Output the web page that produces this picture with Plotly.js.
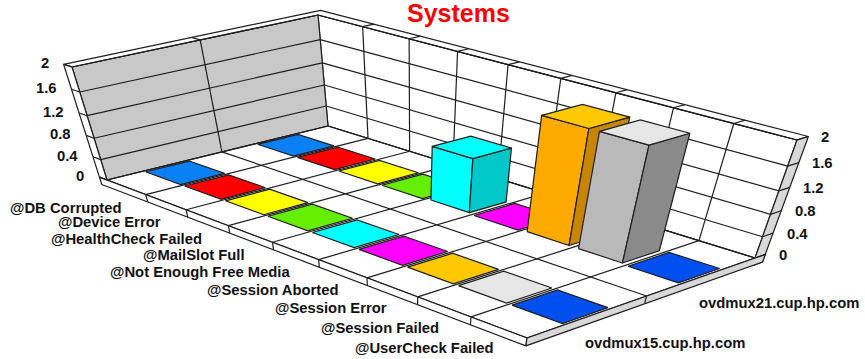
<!DOCTYPE html><html><head><script src="https://cdn.plot.ly/plotly-3.0.1.min.js"></script></head><body style="margin:0;background:#fff"><div id="chart" style="width:865px;height:359px"></div><script>
const categories=['@DB Corrupted','@Device Error','@HealthCheck Failed','@MailSlot Full','@Not Enough Free Media','@Session Aborted','@Session Error','@Session Failed','@UserCheck Failed'];
const seriesNames=['ovdmux15.cup.hp.com','ovdmux21.cup.hp.com'];
const values15=[0,0,0,0,0,0,0,0,0];
const values21=[0,0,0,0,1,0,2,2,0];
const zTicks=[0,0.4,0.8,1.2,1.6,2];
const topColors=['#0a80f5','#ff0000','#ffff00','#66ee00','#00ffff','#ff00ff','#ffc800','#e6e6e6','#0050f0'];
const frontColors=['#0a70d8','#dd0000','#dddd00','#55cc00','#00ffff','#dd00dd','#ffaa00','#b9b9b9','#0044cc'];
const sideColors=['#0860b8','#bb0000','#bbbb00','#44aa00','#00c8c8','#bb00bb','#c88600','#8a8a8a','#0038aa'];

// Oblique view of the 9 x 2 x 2 chart box: where the box corners land on the page axes.
const floorQuad=[[107,180],[527,338],[755,258],[328,126]];
const topQuad=[[72,67],[544,218],[797,140],[318,15]];
const nX=categories.length,nY=seriesNames.length,zMax=2,zBow=0.88;
function squareToQuad(q){const[[x0,y0],[x1,y1],[x2,y2],[x3,y3]]=q;
 const dx1=x1-x2,dx2=x3-x2,sx=x0-x1+x2-x3,dy1=y1-y2,dy2=y3-y2,sy=y0-y1+y2-y3,den=dx1*dy2-dx2*dy1;
 const g=(sx*dy2-dx2*sy)/den,h=(dx1*sy-sx*dy1)/den;
 return [x1-x0+g*x1,x3-x0+h*x3,x0,y1-y0+g*y1,y3-y0+h*y3,y0,g,h];}
const H0=squareToQuad(floorQuad),H1=squareToQuad(topQuad);
function ap(H,u,v){const w=H[6]*u+H[7]*v+1;return[(H[0]*u+H[1]*v+H[2])/w,(H[3]*u+H[4]*v+H[5])/w];}
function project(x,y,z){const u=x/nX,v=y/nY,t=z/zMax,s=t*zBow/(1-t+t*zBow);
 const a=ap(H0,u,v),b=ap(H1,u,v);return[a[0]+(b[0]-a[0])*s,a[1]+(b[1]-a[1])*s];}

const traces=[];const INK='#1e1e1e';const LW=1.2;
function face(pts,fill,lw,ink){const P=pts.map(p=>project(...p));P.push(P[0]);
 traces.push({type:'scatter',mode:'lines',x:P.map(p=>p[0]),y:P.map(p=>p[1]),fill:'toself',fillcolor:fill,line:{color:ink||INK,width:lw===undefined?LW:lw},hoverinfo:'skip',showlegend:false});}
function lines(segs,lw,ink){const X=[],Y=[];segs.forEach(s=>{const a=project(...s[0]),b=project(...s[1]);X.push(a[0],b[0],null);Y.push(a[1],b[1],null);});
 traces.push({type:'scatter',mode:'lines',x:X,y:Y,line:{color:ink||INK,width:lw||LW},hoverinfo:'skip',showlegend:false});}

const eX=0.2,eY=0.1,eZ=-0.15,Y2=nY+eY,X0=-eX;
// back wall, left wall
face([[0,nY,0],[nX,nY,0],[nX,nY,zMax],[0,nY,zMax]],'#ffffff');
face([[0,0,0],[0,nY,0],[0,nY,zMax],[0,0,zMax]],'#c8c8c8');
// wall thickness
face([[X0,0,zMax],[0,0,zMax],[0,nY,zMax],[nX,nY,zMax],[nX,Y2,zMax],[X0,Y2,zMax]],'#ffffff');
face([[X0,0,0],[0,0,0],[0,0,zMax],[X0,0,zMax]],'#ffffff');
face([[nX,nY,eZ],[nX,Y2,eZ],[nX,Y2,zMax],[nX,nY,zMax]],'#d8d8d8');
// floor and its edges
face([[0,0,0],[nX,0,0],[nX,nY,0],[0,nY,0]],'#ffffff');
face([[X0,0,eZ],[nX,0,eZ],[nX,0,0],[X0,0,0]],'#ffffff');
face([[nX,0,eZ],[nX,Y2,eZ],[nX,Y2,0],[nX,0,0]],'#d8d8d8');
// grid
const grid=[];
zTicks.forEach(z=>{grid.push([[0,0,z],[0,nY,z]],[[0,nY,z],[nX,nY,z]]);
 grid.push([[X0,0,z],[0,0,z]],[[nX,nY,z],[nX,Y2,z]]);});
for(let j=1;j<nY;j++){grid.push([[0,j,0],[0,j,zMax]],[[0,j,0],[nX,j,0]],[[0,j,zMax],[X0,j,zMax]],[[nX,j,0],[nX,j,eZ]]);}
for(let i=1;i<nX;i++){grid.push([[i,0,0],[i,nY,0]],[[i,nY,0],[i,nY,zMax]],[[i,nY,zMax],[i,Y2,zMax]],[[i,0,0],[i,0,eZ]]);}
lines(grid);
// bars, far row first: flat tiles are a little wider than raised bars
const tilePad=[0.05,0.31],barPad=[0.09,0.33];
[values21,values15].forEach((vals,idx)=>{const j=nY-1-idx;vals.forEach((v,i)=>{
 const pad=v>0?barPad:tilePad;
 const a=i+pad[0],b=i+1-pad[0],c=j+pad[1],d=j+1-pad[1];
 if(v>0){face([[a,c,0],[b,c,0],[b,c,v],[a,c,v]],frontColors[i]);face([[b,c,0],[b,d,0],[b,d,v],[b,c,v]],sideColors[i]);}
 face([[a,c,v],[b,c,v],[b,d,v],[a,d,v]],topColors[i]);
});});

const F={family:'"Liberation Sans",Arial,sans-serif',size:14.8,color:'#111111',weight:700};
const anns=[];
function note(text,p,dx,dy,anchor,font){anns.push({text:text,x:p[0]+dx,y:p[1]+dy,xref:'x',yref:'y',xanchor:anchor,yanchor:'middle',showarrow:false,font:font||F,borderpad:0,borderwidth:0});}
categories.forEach((c,i)=>note(c,project(i+0.5,0,0),-5,i===1?19.5:21,'right'));
seriesNames.forEach((c,j)=>note(c,project(nX,j+0.5,0),-3,26,'left'));
zTicks.forEach(z=>{note(String(z),project(0,0,z),-23,-4,'right');note(String(z),project(nX,nY,z),24,-3,'left');});
anns.push({text:'Systems',x:458.5,y:13,xref:'x',yref:'y',xanchor:'center',yanchor:'middle',showarrow:false,font:{family:'"Liberation Sans",Arial,sans-serif',size:25,color:'#ff0000',weight:700}});

Plotly.newPlot('chart',traces,{width:865,height:359,margin:{l:0,r:0,t:0,b:0},paper_bgcolor:'#ffffff',plot_bgcolor:'#ffffff',showlegend:false,
 xaxis:{range:[0,865],visible:false,fixedrange:true},yaxis:{range:[359,0],visible:false,fixedrange:true},annotations:anns},{displayModeBar:false,staticPlot:true});
</script></body></html>
